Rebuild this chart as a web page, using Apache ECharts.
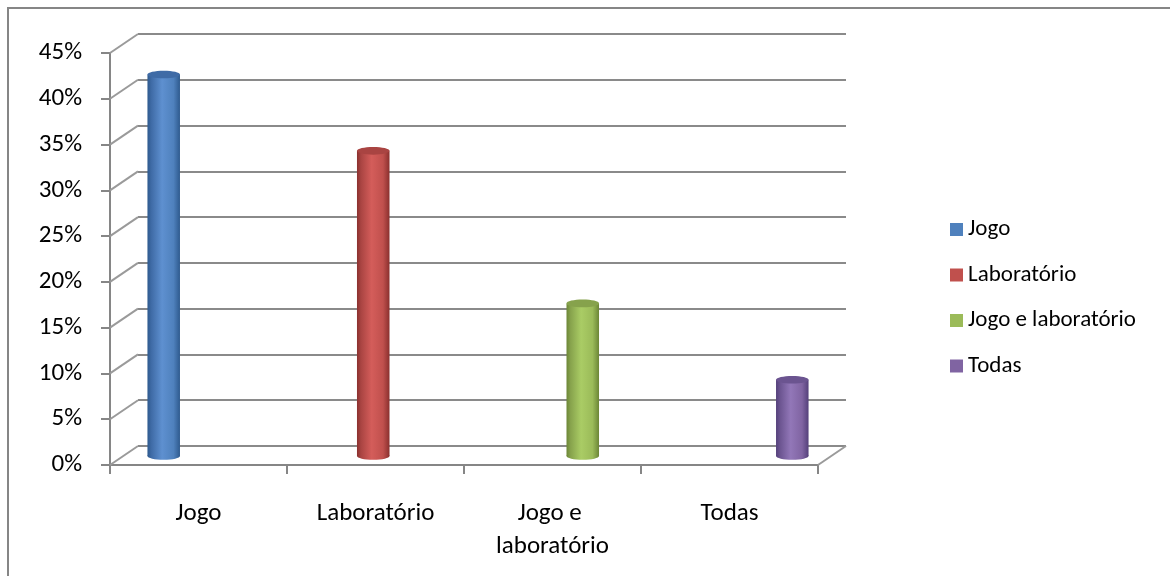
<!DOCTYPE html>
<html>
<head>
<meta charset="utf-8">
<script src="https://cdn.jsdelivr.net/npm/echarts@6/dist/echarts.min.js"></script>
<style>
  html, body { margin: 0; padding: 0; background: #fff; }
  #chart { width: 1170px; height: 576px; }
</style>
</head>
<body>
<div id="chart"></div>
<script>
// Categories on the front axis
const categories = ['Jogo', 'Laboratório', 'Jogo e laboratório', 'Todas'];
// One series per answer option (each fills its own category)
const seriesNames = ['Jogo', 'Laboratório', 'Jogo e laboratório', 'Todas'];
const shares = [41.67, 33.33, 16.67, 8.33];
// Value axis ticks (percent)
const yTicks = [0, 5, 10, 15, 20, 25, 30, 35, 40, 45];

// Palette: [side, highlight, cap, base]
const palette = [
  ['#2E5A8E', '#5E90D0', '#3F6BA6', '#4F81BD'],
  ['#8A302E', '#D45D5A', '#A94442', '#C0504D'],
  ['#6C8636', '#AACC65', '#86A24C', '#9BBB59'],
  ['#54407A', '#9277B8', '#6B5490', '#8064A2']
];

const FONT = 'Carlito, Calibri, "Open Sans", "Noto Sans", sans-serif';
const DEPTH = [28, -19];          // wall depth offset (x, y)
const CAT_GAP = 0.265;            // space between category clusters
const yMin = yTicks[0], yMax = yTicks[yTicks.length - 1], yStep = yTicks[1] - yTicks[0];

const chart = echarts.init(document.getElementById('chart'), null, { renderer: 'canvas' });

function valueAxis(gridIndex, showLabels) {
  return {
    type: 'value', gridIndex, min: yMin, max: yMax, interval: yStep,
    axisLine: { show: showLabels, lineStyle: { color: '#868686', width: 2 } },
    axisTick: { show: showLabels, length: 9, lineStyle: { color: '#868686', width: 2 } },
    axisLabel: {
      show: showLabels, margin: 28, color: '#000', fontFamily: FONT, fontSize: 25,
      formatter: v => v + '%'
    },
    splitLine: { show: !showLabels, lineStyle: { color: '#8a8a8a', width: 2 } }
  };
}

function categoryAxis(gridIndex, show) {
  return {
    type: 'category', gridIndex, data: categories, boundaryGap: true,
    axisLine: { show, onZero: false, lineStyle: { color: '#868686', width: 2 } },
    axisTick: { show, interval: 0, length: 9, lineStyle: { color: '#868686', width: 2 } },
    axisLabel: {
      show, interval: 0, margin: 32, color: '#000', fontFamily: FONT, fontSize: 25, lineHeight: 33,
      width: 150, overflow: 'break', align: 'center'
    },
    splitLine: { show: false }
  };
}

// Cylinder columns drawn on the middle depth plane
function cylinderRenderer(slotIndex, colors) {
  return function (params, api) {
    const cat = api.value(0);
    const v = api.value(1);
    const band = api.size([1, 0])[0];
    const slot = band * (1 - CAT_GAP) / seriesNames.length;
    const top = api.coord([cat, v]);
    const base = api.coord([cat, 0]);
    const cx = top[0] + (slotIndex - (seriesNames.length - 1) / 2) * slot;
    const w = slot;
    const ry = 3.8;
    const side = new echarts.graphic.LinearGradient(0, 0, 1, 0, [
      { offset: 0, color: colors[0] },
      { offset: 0.12, color: colors[2] },
      { offset: 0.45, color: colors[1] },
      { offset: 0.8, color: colors[3] },
      { offset: 1, color: colors[0] }
    ]);
    return {
      type: 'group',
      children: [
        { type: 'ellipse', shape: { cx, cy: base[1], rx: w / 2, ry }, style: { fill: side } },
        { type: 'rect', shape: { x: cx - w / 2, y: top[1], width: w, height: base[1] - top[1] }, style: { fill: side } },
        { type: 'ellipse', shape: { cx, cy: top[1], rx: w / 2, ry }, style: { fill: colors[2] } }
      ]
    };
  };
}

// Short diagonal edges joining the front axis to the back wall
const edgeData = yTicks.map(v => [0, v, -1]).concat([[categories.length - 1, yMin, 1]]);
function edgeRenderer(params, api) {
  const p = api.coord([api.value(0), api.value(1)]);
  const half = api.size([1, 0])[0] / 2;
  const x = p[0] + api.value(2) * half;
  return {
    type: 'line',
    shape: { x1: x, y1: p[1], x2: x + DEPTH[0], y2: p[1] + DEPTH[1] },
    style: { stroke: '#9a9a9a', lineWidth: 2 }
  };
}

const option = {
  backgroundColor: '#fff',
  animation: false,
  color: palette.map(c => c[3]),
  graphic: [{
    type: 'rect', shape: { x: 8, y: 8, width: 1170, height: 600 },
    style: { fill: 'none', stroke: '#868686', lineWidth: 2 }, silent: true
  }],
  legend: {
    data: seriesNames, orient: 'vertical', left: 945, top: 213,
    icon: 'rect', itemWidth: 13, itemHeight: 13, itemGap: 22.5,
    textStyle: { fontFamily: FONT, fontSize: 23, lineHeight: 21, color: '#000' }
  },
  grid: [
    // back wall
    { left: 138, right: 1170 - 846, top: 34, bottom: 576 - 446 },
    // front axes
    { left: 110, right: 1170 - 818, top: 53, bottom: 576 - 465 },
    // middle plane (columns)
    { left: 124, right: 1170 - 832, top: 44, bottom: 576 - 456 }
  ],
  xAxis: [categoryAxis(0, false), categoryAxis(1, true), categoryAxis(2, false)],
  yAxis: [valueAxis(0, false), valueAxis(1, true),
          Object.assign(valueAxis(2, false), { splitLine: { show: false } })],
  series: [
    {
      type: 'custom', xAxisIndex: 1, yAxisIndex: 1, clip: false, silent: true,
      renderItem: edgeRenderer, data: edgeData, z: 1
    }
  ].concat(seriesNames.map((name, i) => ({
    name, type: 'custom', xAxisIndex: 2, yAxisIndex: 2, clip: false, z: 3,
    itemStyle: { color: palette[i][3] },
    renderItem: cylinderRenderer(i, palette[i]),
    data: [[i, shares[i]]]
  })))
};

chart.setOption(option);
</script>
</body>
</html>
